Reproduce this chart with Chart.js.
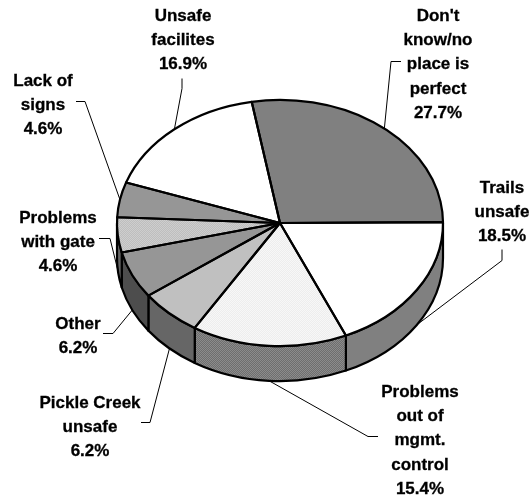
<!DOCTYPE html>
<html>
<head>
<meta charset="utf-8">
<style>
	html, body { margin: 0; padding: 0; background: #fff; }
	canvas { display: block; }
</style>
<script src="https://cdn.jsdelivr.net/npm/chart.js@4"></script>
</head>
<body>
<canvas id="pie3d" width="532" height="497"></canvas>
<script>
(() => {
	'use strict'

	// Chart data, clockwise from the big slice
	const categories = ["Don't know/no place is perfect", 'Trails unsafe', 'Problems out of mgmt. control', 'Pickle Creek unsafe', 'Other', 'Problems with gate', 'Lack of signs', 'Unsafe facilites'];
	const values = [27.7, 18.5, 15.4, 6.2, 6.2, 4.6, 4.6, 16.9];
	const wrappedNames = [["Don't", 'know/no', 'place is', 'perfect'], ['Trails', 'unsafe'], ['Problems', 'out of', 'mgmt.', 'control'], ['Pickle Creek', 'unsafe'], ['Other'], ['Problems', 'with gate'], ['Lack of', 'signs'], ['Unsafe', 'facilites']];

	// Look of the fake 3D pie
	const squash = 0.755;
	const depth = 35;
	const radius = 163;

	// Where the text sits, and the elbow of each leader line
	const labelSpots = [[438, 16], [502, 188], [420, 392], [90, 403], [78, 324], [58, 218], [43, 81], [183, 16]];
	const leaderElbows = [
		[[401, 61], [391, 61]],
		[[502, 249], [502, 260]],
		[[378, 436], [368, 436]],
		[[141, 422], [150, 422]],
		[[103, 333], [113, 333]],
		[[99, 238], [110, 238]],
		[[76, 101], [85, 101]],
		[[182, 78], [182, 88]]
	];

	// Small dotted fills; the ones on the top face undo the vertical squash
	function dots(back, front, onTop) {
		const tile = document.createElement('canvas');
		tile.width = 2;
		tile.height = 2;
		const t = tile.getContext('2d');
		t.fillStyle = back;
		t.fillRect(0, 0, 2, 2);
		t.fillStyle = front;
		t.fillRect(0, 0, 1, 1);
		t.fillRect(1, 1, 1, 1);
		const pattern = t.createPattern(tile, 'repeat');
		if (onTop) pattern.setTransform(new DOMMatrix().scale(1, 1 / squash));
		return pattern;
	}

	const topColors = ['#808080', '#ffffff', dots('#ffffff', '#e6e6e6', true), '#c0c0c0', '#969696', dots('#dddddd', '#b0b0b0', true), '#969696', '#ffffff'];
	const sideColors = ['#555555', '#808080', dots('#6e6e6e', '#8c8c8c', false), '#666666', '#4d4d4d', '#666666', '#666666', '#808080'];

	function ellipseArc(ctx, x, y, from, to, ccw) {
		ctx.ellipse(x, y, radius, radius * squash, 0, from, to, ccw);
	}

	const pie3d = {
		id: 'pie3d',
		beforeDatasetsDraw(chart) {
			const ctx = chart.ctx;
			const arcs = chart.getDatasetMeta(0).data;
			ctx.save();
			ctx.lineWidth = 2.2;
			ctx.strokeStyle = '#000';
			ctx.lineJoin = 'round';
			// Side walls, only the front half can be seen
			arcs.forEach((arc, i) => {
				const a = Math.max(arc.startAngle, 0);
				const b = Math.min(arc.endAngle, Math.PI);
				if (b <= a) return;
				ctx.beginPath();
				ellipseArc(ctx, arc.x, arc.y, a, b, false);
				ellipseArc(ctx, arc.x, arc.y + depth, b, a, true);
				ctx.closePath();
				ctx.fillStyle = sideColors[i];
				ctx.fill();
				ctx.stroke();
			});
			ctx.restore();
			// Squash the pie itself
			const first = arcs[0];
			ctx.save();
			ctx.translate(first.x, first.y);
			ctx.scale(1, squash);
			ctx.translate(-first.x, -first.y);
		},
		afterDatasetsDraw(chart) {
			const ctx = chart.ctx;
			ctx.restore();
			const arcs = chart.getDatasetMeta(0).data;
			ctx.save();
			ctx.lineWidth = 2.2;
			ctx.strokeStyle = '#000';
			ctx.lineJoin = 'round';
			arcs.forEach((arc) => {
				ctx.beginPath();
				ctx.moveTo(arc.x, arc.y);
				ellipseArc(ctx, arc.x, arc.y, arc.startAngle, arc.endAngle, false);
				ctx.closePath();
				ctx.stroke();
			});
			ctx.restore();

			// Leader lines run from the text to the middle of each slice
			ctx.save();
			ctx.lineWidth = 1;
			ctx.strokeStyle = '#000';
			arcs.forEach((arc, i) => {
				const mid = (arc.startAngle + arc.endAngle) / 2;
				const endX = arc.x + radius * Math.cos(mid);
				const endY = arc.y + radius * squash * Math.sin(mid) + (Math.sin(mid) > 0 ? depth : 0);
				const [p, q] = leaderElbows[i];
				ctx.beginPath();
				ctx.moveTo(p[0], p[1] + 0.5);
				ctx.lineTo(q[0], q[1] + 0.5);
				ctx.lineTo(endX, endY);
				ctx.stroke();
			});
			ctx.restore();

			// Labels, with a hair of stroke for the heavier look of the original
			ctx.save();
			ctx.font = 'bold 17px "Liberation Sans", Arial, sans-serif';
			ctx.fillStyle = '#000';
			ctx.strokeStyle = '#000';
			ctx.lineWidth = 0.3;
			ctx.textAlign = 'center';
			ctx.textBaseline = 'middle';
			categories.forEach((name, i) => {
				const lines = wrappedNames[i].concat(values[i].toFixed(1) + '%');
				lines.forEach((line, n) => {
					ctx.fillText(line, labelSpots[i][0], labelSpots[i][1] + n * 24.4);
					ctx.strokeText(line, labelSpots[i][0], labelSpots[i][1] + n * 24.4);
				});
			});
			ctx.restore();
		}
	};

	new Chart(document.getElementById('pie3d'), {
		type: 'pie',
		data: {
			labels: categories,
			datasets: [{
				data: values,
				backgroundColor: topColors,
				borderWidth: 0,
				radius: radius
			}]
		},
		options: {
			responsive: false,
			animation: false,
			rotation: -10,
			layout: {
				padding: { left: 117, right: 89, top: 60, bottom: 111 }
			},
			plugins: {
				legend: { display: false },
				tooltip: { enabled: false },
				title: { display: false }
			}
		},
		plugins: [pie3d]
	});
})()
</script>
</body>
</html>
